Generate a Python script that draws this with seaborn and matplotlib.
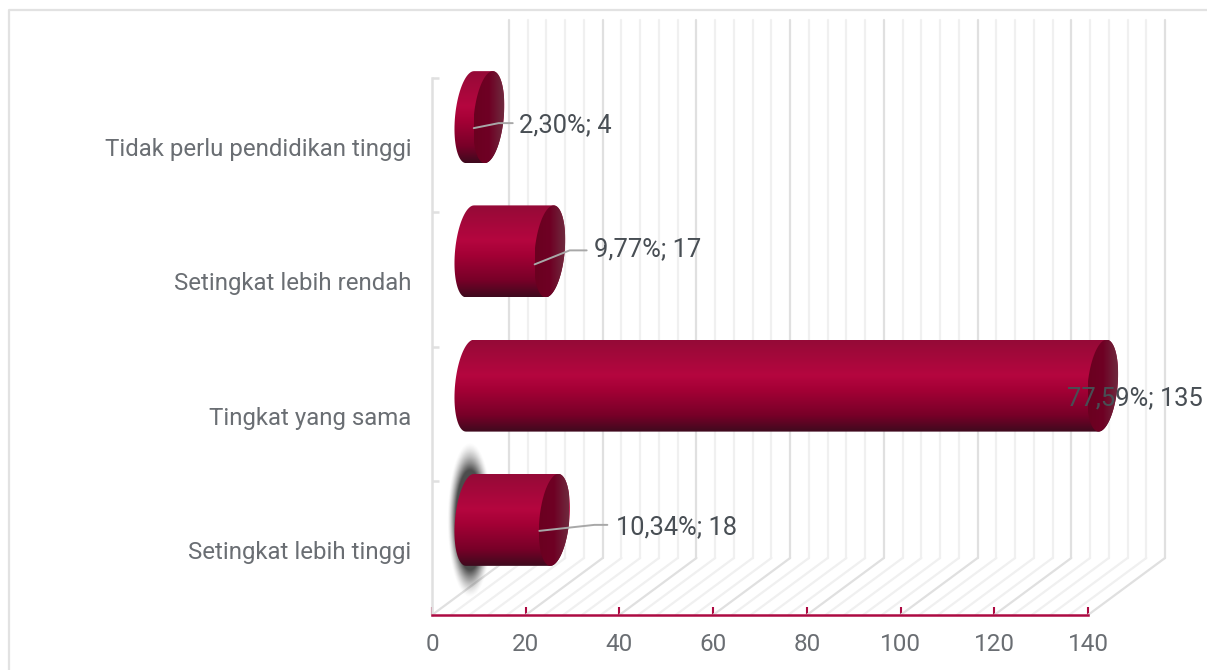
import numpy as np
import pandas as pd
import matplotlib
matplotlib.use('Agg')
import matplotlib.pyplot as plt
import matplotlib.transforms as mtransforms
from matplotlib.colors import LinearSegmentedColormap
from matplotlib.lines import Line2D
from matplotlib.patches import PathPatch
from matplotlib.path import Path
import seaborn as sns

categories = ['Tidak perlu pendidikan tinggi', 'Setingkat lebih rendah', 'Tingkat yang sama', 'Setingkat lebih tinggi']
counts = [4, 17, 135, 18]
labels = ['2,30%; 4', '9,77%; 17', '77,59%; 135', '10,34%; 18']
major_ticks = [0, 20, 40, 60, 80, 100, 120, 140]
minor_ticks = [4, 8, 12, 16, 24, 28, 32, 36, 44, 48, 52, 56, 64, 68, 72, 76, 84, 88, 92, 96,
               104, 108, 112, 116, 124, 128, 132, 136]

sns.set_style('white')
plt.rcParams['font.family'] = ['Roboto', 'DejaVu Sans']

W, H = 1207, 670
AX_L, AX_R, AX_T, AX_B = 432, 1088, 78, 615
DEPTH_X, DEPTH_Y = 77, 57
XU = 140 / (AX_R - AX_L)   # data units per pixel
YU = 4 / (AX_B - AX_T)
CRIMSON = '#ad0a42'
BAR_H = 0.685

fig = plt.figure(figsize=(W / 100, H / 100), dpi=100, facecolor='white')
ax = fig.add_axes([AX_L / W, 1 - AX_B / H, (AX_R - AX_L) / W, (AX_B - AX_T) / H])
df = pd.DataFrame({'category': categories, 'count': counts})
sns.barplot(data=df, x='count', y='category', color=CRIMSON, width=BAR_H, ax=ax, saturation=1, zorder=3)
ax.set_xlim(0, 140)
ax.set_ylim(3.5, -0.5)
ax.set_xlabel('')
ax.set_ylabel('')

# bars sit half way back in the fake 3d box
mid = mtransforms.offset_copy(ax.transData, fig, x=38, y=28, units='dots')

# frame
fig.add_artist(Line2D([8.5 / W, 8.5 / W, 1], [0, 1 - 10 / H, 1 - 10 / H], color='#e2e2e2', lw=1.6))

# walls
wall = mtransforms.offset_copy(ax.transData, fig, x=DEPTH_X, y=DEPTH_Y, units='dots')
for ticks, col in [(minor_ticks, '#f0f0f0'), (major_ticks, '#e0e0e0')]:
    for t in ticks:
        ax.plot([t, t + DEPTH_X * XU], [3.5, 3.5 - DEPTH_Y * YU], color=col, lw=1.6, clip_on=False, zorder=1)
        ax.plot([t, t], [3.5, 3.5 - (AX_B - 20 - DEPTH_Y) * YU], color=col, lw=1.6, clip_on=False,
                transform=wall, zorder=1)

sns.despine(ax=ax, top=True, right=True)
ax.spines['left'].set_color('#e0e0e0')
ax.spines['left'].set_linewidth(1.8)
ax.spines['bottom'].set_color(CRIMSON)
ax.spines['bottom'].set_linewidth(1.8)
ax.spines['bottom'].set_zorder(4)
ax.set_xticks(major_ticks)
ax.set_yticks([-0.5, 0.5, 1.5, 2.5], minor=True)
ax.tick_params(axis='x', direction='in', length=6, width=1.5, color=CRIMSON, pad=13,
               labelsize=17.5, labelcolor='#6a6e73', bottom=True)
ax.tick_params(axis='y', which='major', length=0, pad=15, labelsize=17.3, labelcolor='#6a6e73')
ax.tick_params(axis='y', which='minor', direction='in', length=5, width=1.8, color='#e0e0e0', left=True)
# category labels sit a little under the band centre
for lbl in ax.get_yticklabels():
    lbl.set_transform(lbl.get_transform() + mtransforms.ScaledTranslation(0, -2 / 100, fig.dpi_scale_trans))

body_cmap = LinearSegmentedColormap.from_list('body', [
    (0, '#950a37'), (0.38, '#b5063f'), (0.55, '#a30035'), (0.82, '#780028'), (1, '#3f0a1e')])
cap_cmap = LinearSegmentedColormap.from_list('cap', ['#6b0020', '#6f0024', '#6e2a3e'])
RX = 15 * XU
SHEAR = 4 * XU


def ellipse_xy(cx, cy, t):
    # t=0 at the top of the ellipse, going clockwise
    return cx + RX * np.sin(t) + SHEAR * np.cos(t), cy - BAR_H / 2 * np.cos(t)


for i, bar in enumerate(ax.patches[:4]):
    v = counts[i]
    bar.set_visible(False)
    cy = bar.get_y() + bar.get_height() / 2
    # side of the cylinder
    t_left = np.linspace(2 * np.pi, np.pi, 40)
    t_right = np.linspace(np.pi, 0, 40)
    xl, yl = ellipse_xy(0, cy, t_left)
    xr, yr = ellipse_xy(v, cy, t_right)
    body = Path(np.column_stack([np.r_[xl, xr], np.r_[yl, yr]]))
    im = ax.imshow(np.linspace(0, 1, 128)[:, None], cmap=body_cmap, aspect='auto', origin='upper',
                   extent=(-RX * 2, v + RX * 2, cy + BAR_H / 2, cy - BAR_H / 2), transform=mid,
                   zorder=3)
    im.set_clip_box(fig.bbox)
    im.set_clip_path(PathPatch(body, transform=mid))
    # end of the cylinder
    xc, yc = ellipse_xy(v, cy, np.linspace(0, 2 * np.pi, 80))
    cap = Path(np.column_stack([xc, yc]))
    im2 = ax.imshow(np.linspace(0, 1, 64)[None, :], cmap=cap_cmap, aspect='auto',
                    extent=(v - RX, v + RX, cy + BAR_H / 2, cy - BAR_H / 2), transform=mid,
                    zorder=3.1)
    im2.set_clip_box(fig.bbox)
    im2.set_clip_path(PathPatch(cap, transform=mid))

# selected point shadow behind the lowest bar
cy = 3
gx, gy = np.meshgrid(np.linspace(-1.3, 1.3, 120), np.linspace(-1.3, 1.3, 200))
rr = np.hypot(gx, gy)
shadow = np.zeros(rr.shape + (4,))
shadow[..., :3] = 0.22
shadow[..., 3] = np.clip((1.18 - rr) / 0.42, 0, 1) ** 1.5 * 0.9
ax.imshow(shadow, aspect='auto', extent=(-19 * XU * 1.3, 19 * XU * 1.3, cy + 66 * YU * 1.3, cy - 66 * YU * 1.3),
          transform=mid, zorder=2.5, interpolation='bilinear')

# labels with leader lines, offsets in px from the centre of the bar end
label_dx = [30, 44, -36, 62]
label_dy = [8, -2, 13, 7]
line_px = [[(-15, 11), (10, 6), (24, 6)],
           [(-15, 13), (20, -1), (37, -1)],
           None,
           [(-15, 11), (40, 5), (53, 5)]]
for i, (v, lab) in enumerate(zip(counts, labels)):
    if line_px[i] is not None:
        xs = [v + p[0] * XU for p in line_px[i]]
        ys = [i + p[1] * YU for p in line_px[i]]
        ax.plot(xs, ys, color='#a8a8a8', lw=1.4, transform=mid, clip_on=False, zorder=5)
    ax.text(v + label_dx[i] * XU, i + label_dy[i] * YU, lab, transform=mid, ha='left', va='center',
            fontsize=18.4, color='#484e54', clip_on=False, zorder=6)

ax.set_xlim(0, 140)
ax.set_ylim(3.5, -0.5)
ax.set_facecolor('none')
fig.savefig('out.png', dpi=100)
